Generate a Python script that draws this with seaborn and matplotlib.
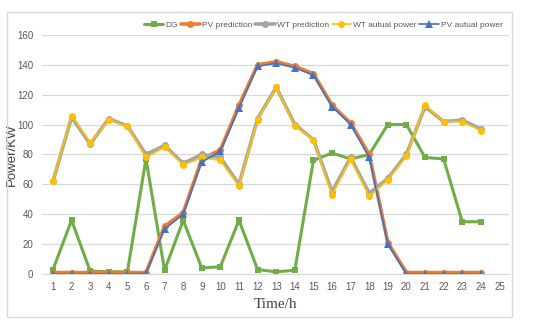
import pandas as pd
import seaborn as sns
import matplotlib.pyplot as plt
from matplotlib.patches import Rectangle

# hourly values
hours = list(range(1, 25))
dg = [3, 36, 2, 1.5, 1.5, 77, 2.5, 36, 4, 5, 36, 3, 1.5, 2.5, 76, 81, 77, 80, 100, 100, 78, 77, 35, 35]
pv_pred = [1, 1, 1, 1, 1, 1, 32, 41, 77, 83, 113, 140, 142, 139, 134, 113, 101, 80, 21, 1, 1, 1, 1, 1]
wt_pred = [62, 105, 87, 104, 99, 80, 86, 74, 80, 78, 60, 104, 125, 100, 90, 55, 78, 54, 64, 80, 112, 102, 103, 97]
wt_act = [62, 106, 88, 103, 99, 78, 85, 73, 78, 76, 59, 103, 125, 99, 90, 53, 77, 52, 63, 79, 113, 102, 102, 96]
pv_act = [0, 0, 0, 0, 0, 0.5, 30, 40, 75, 82, 111, 139, 141, 138, 133, 112, 100, 78, 20, 0, 0, 0, 0, 0]

series = ['DG', 'PV prediction', 'WT prediction', 'WT autual power', 'PV autual power']
df = pd.DataFrame({'hour': hours, 'DG': dg, 'PV prediction': pv_pred,
                   'WT prediction': wt_pred, 'WT autual power': wt_act,
                   'PV autual power': pv_act})
long = df.melt(id_vars='hour', var_name='series', value_name='power')

colors = {'DG': '#70AD47', 'PV prediction': '#ED7D31', 'WT prediction': '#A5A5A5',
          'WT autual power': '#FFC000', 'PV autual power': '#4472C4'}
markers = {'DG': 's', 'PV prediction': 'o', 'WT prediction': 'o',
           'WT autual power': 'o', 'PV autual power': '^'}
widths = {'DG': 2.2, 'PV prediction': 2.6, 'WT prediction': 2.6,
          'WT autual power': 1.2, 'PV autual power': 1.2}
msizes = {'DG': 5, 'PV prediction': 5, 'WT prediction': 5,
          'WT autual power': 5, 'PV autual power': 5.5}

sns.set_style('white')
plt.rcParams['font.family'] = ['Liberation Sans', 'DejaVu Sans']
fig = plt.figure(figsize=(5.5, 3.29), dpi=100)
ax = fig.add_axes([0.076, 0.167, 0.849, 0.727])

for s in series:
    sub = long[long['series'] == s]
    sns.lineplot(data=sub, x='hour', y='power', ax=ax, color=colors[s],
                 marker=markers[s], markersize=msizes[s], markeredgewidth=0,
                 linewidth=widths[s], label=s)

ax.set_xlim(0.4, 25.5)
ax.set_ylim(0, 160)
ax.set_xticks(range(1, 26))
ax.set_yticks(range(0, 161, 20))
ax.yaxis.grid(True, color='#D9D9D9', linewidth=0.9)
ax.set_axisbelow(True)
for sp in ['top', 'right', 'left']:
    ax.spines[sp].set_visible(False)
ax.spines['bottom'].set_color('#D9D9D9')
ax.tick_params(axis='both', length=0, labelsize=7, colors='#595959', pad=6)

ax.set_xlabel('Time/h', family='Liberation Serif', fontsize=11, color='#404040', labelpad=4)
ax.set_ylabel('Power/KW', fontsize=9.5, color='#404040')
ax.yaxis.set_label_coords(-0.052, 0.5)

ax.legend(loc='lower right', bbox_to_anchor=(1.0, 1.0), ncol=5, frameon=False,
          fontsize=6, handlelength=2.3, handletextpad=0.3, columnspacing=0.3,
          borderaxespad=0.3, labelcolor='#595959')

fig.patches.append(Rectangle((0.013, 0.036), 0.918, 0.927, transform=fig.transFigure,
                             fill=False, edgecolor='#D9D9D9', linewidth=1))

plt.savefig('out.png', dpi=100)
